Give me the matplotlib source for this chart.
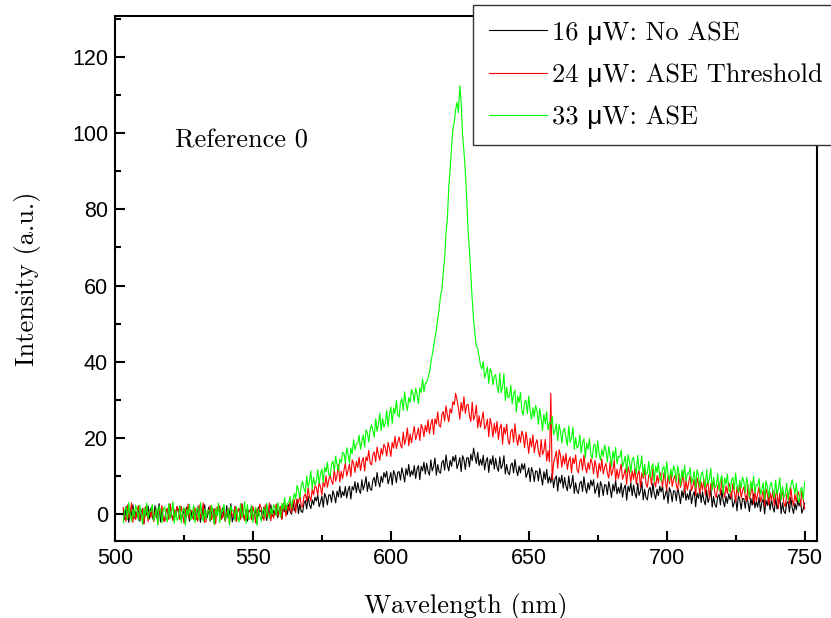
"""Emission spectra below / at / above the ASE threshold."""

import matplotlib

matplotlib.use("Agg")
import matplotlib.pyplot as plt  # noqa: E402
import numpy as np  # noqa: E402

# wavelength grid (nm), 0.5 nm step, 503..750
wavelength = np.arange(503, 750.25, 0.5)

# 16 uW: no ASE (one row = 5 nm)
intensity_16uw = [
    1.0, -1.4, 1.9, 0.2, -2.2, 1.3, -0.5, 2.4, -1.1, 0.6,
    -0.8, 1.8, -1.9, 0.5, 1.4, -2.6, 1.1, -0.3, 2.1, -1.3,
    1.6, -0.6, -1.8, 2.2, -1.0, 0.3, 2.7, -2.1, 0.8, -1.4,
    -1.9, 0.8, 1.4, -1.3, 2.6, -0.2, -1.6, 1.1, -0.6, 1.9,
    0.5, 2.1, -1.4, -0.3, 1.3, -2.4, 1.8, 0.6, -1.9, 1.0,
    -1.1, 0.6, 1.0, -1.4, 1.9, 0.2, -2.2, 1.3, -0.5, 2.4,
    -1.3, -0.8, 1.8, -1.9, 0.5, 1.4, -2.6, 1.1, -0.3, 2.1,
    0.8, -1.4, 1.6, -0.6, -1.8, 2.2, -1.0, 0.3, 2.7, -2.1,
    -0.6, 1.9, -1.9, 0.8, 1.4, -1.3, 2.6, -0.2, -1.6, 1.1,
    -1.9, 1.0, 0.5, 2.1, -1.4, -0.3, 1.3, -2.4, 1.8, 0.6,
    0.9, -1.1, 1.8, 0.3, -1.7, 1.4, -0.1, 2.4, -0.6, 0.9,
    -0.2, 2.0, -1.0, 1.1, 1.9, -1.3, 1.8, 0.6, 2.3, -0.1,
    2.5, 0.7, -0.1, 3.3, 0.8, 1.9, 3.8, 0.1, 2.6, 0.7,
    0.4, 2.8, 3.5, 1.3, 4.6, 2.5, 1.4, 3.7, 2.4, 4.4,
    3.4, 5.0, 1.9, 3.1, 4.7, 1.8, 5.4, 4.4, 2.4, 5.0,
    5.0, 3.1, 6.1, 4.8, 2.9, 6.0, 4.5, 7.3, 4.3, 5.9,
    4.8, 7.2, 4.2, 6.3, 7.3, 3.9, 7.2, 6.3, 8.5, 5.6,
    8.2, 6.3, 5.4, 9.0, 6.3, 7.7, 9.8, 5.9, 8.4, 6.6,
    6.2, 8.9, 9.6, 7.3, 10.9, 8.5, 7.1, 9.9, 8.3, 10.9,
    9.6, 11.2, 7.9, 9.3, 10.9, 7.6, 11.4, 10.4, 8.2, 11.0,
    11.1, 8.9, 12.1, 10.5, 8.4, 11.9, 10.2, 13.0, 9.8, 11.4,
    10.2, 12.7, 9.3, 11.8, 12.7, 9.0, 12.5, 11.3, 13.6, 10.5,
    13.3, 11.2, 10.2, 14.2, 11.3, 12.4, 14.7, 10.2, 13.0, 11.1,
    10.7, 13.5, 14.1, 11.5, 15.5, 12.8, 11.3, 14.1, 12.5, 15.1,
    13.8, 15.4, 11.9, 13.2, 14.8, 11.1, 15.3, 14.3, 11.7, 14.7,
    14.8, 12.4, 15.7, 14.0, 17.3, 15.1, 13.3, 16.2, 12.7, 14.4,
    12.8, 15.4, 11.6, 13.9, 14.8, 10.9, 14.4, 13.0, 15.3, 11.8,
    14.6, 12.3, 11.2, 15.0, 11.9, 12.9, 15.3, 10.5, 13.0, 10.9,
    10.3, 12.9, 13.4, 10.8, 14.3, 11.6, 10.1, 12.6, 10.8, 13.2,
    11.7, 13.2, 9.6, 10.6, 12.1, 8.5, 12.2, 11.0, 8.5, 11.3,
    11.2, 8.7, 12.0, 9.9, 7.6, 11.1, 9.1, 11.7, 8.1, 9.8,
    8.2, 10.7, 6.9, 9.2, 10.0, 6.0, 9.6, 8.1, 10.2, 6.8,
    9.6, 7.3, 6.1, 10.0, 6.7, 7.8, 10.2, 5.4, 8.2, 6.0,
    5.4, 8.1, 8.6, 5.9, 9.8, 7.0, 5.5, 8.2, 6.4, 8.9,
    7.4, 9.0, 5.4, 6.6, 8.1, 4.4, 8.5, 7.4, 4.8, 7.7,
    7.6, 5.1, 8.5, 6.7, 4.3, 7.8, 6.0, 8.8, 5.3, 7.0,
    5.5, 8.1, 4.4, 6.7, 7.6, 3.6, 7.3, 5.9, 8.2, 4.8,
    7.6, 5.4, 4.2, 8.1, 4.9, 6.0, 8.5, 3.7, 6.5, 4.3,
    3.7, 6.4, 7.0, 4.3, 8.1, 5.3, 3.9, 6.5, 4.8, 7.3,
    5.8, 7.4, 3.8, 5.0, 6.5, 2.8, 6.9, 5.8, 3.2, 6.1,
    6.0, 3.5, 6.9, 5.1, 2.7, 6.1, 4.3, 7.1, 3.6, 5.3,
    3.8, 6.4, 2.7, 4.9, 5.9, 1.9, 5.5, 4.1, 6.4, 3.0,
    5.8, 3.5, 2.4, 6.2, 3.0, 4.2, 6.6, 1.8, 4.6, 2.4,
    1.8, 4.5, 5.1, 2.4, 6.2, 3.4, 1.9, 4.6, 2.8, 5.3,
    3.8, 5.4, 1.8, 2.9, 4.4, 0.8, 4.9, 3.7, 1.2, 4.1,
    4.0, 1.5, 4.8, 3.0, 0.6, 4.1, 2.3, 5.2, 1.6, 3.3,
    1.8, 4.4, 0.7, 3.0, 4.0, 0.0, 3.6, 2.2, 4.5, 1.1,
    3.9, 1.7, 0.5, 4.4, 1.3, 2.5, 4.9, 0.1, 2.9, 0.7,
    0.1, 2.8, 3.3, 0.5, 4.4, 1.6, 0.1, 2.8, 1.1, 3.6,
    2.1, 3.7, 0.2, 1.3, 2.8,
]

# 24 uW: ASE threshold
intensity_24uw = [
    1.7, -0.7, -1.9, 2.4, -1.0, 0.3, 2.9, -2.2, 0.9, -1.5,
    0.5, 2.2, -1.5, -0.3, 1.4, -2.6, 1.9, 0.7, -2.0, 1.0,
    -0.9, 1.9, -2.0, 0.5, 1.5, -2.7, 1.2, -0.3, 2.2, -1.4,
    -2.0, 0.9, 1.5, -1.4, 2.7, -0.2, -1.7, 1.2, -0.7, 2.0,
    1.0, -1.5, 2.0, 0.2, -2.4, 1.4, -0.5, 2.6, -1.2, 0.7,
    0.9, -1.5, 1.7, -0.7, -1.9, 2.4, -1.0, 0.3, 2.9, -2.2,
    -2.0, 1.0, 0.5, 2.2, -1.5, -0.3, 1.4, -2.6, 1.9, 0.7,
    2.2, -1.4, -0.9, 1.9, -2.0, 0.5, 1.5, -2.7, 1.2, -0.3,
    -0.7, 2.0, -2.0, 0.9, 1.5, -1.4, 2.7, -0.2, -1.7, 1.2,
    -1.2, 0.7, 1.0, -1.5, 2.0, 0.2, -2.4, 1.4, -0.5, 2.6,
    1.6, -0.6, -1.7, 2.4, -0.8, 0.5, 2.9, -1.8, 1.1, -1.1,
    1.0, 2.6, -0.6, 0.6, 2.0, -1.4, 2.8, 1.8, -0.6, 2.2,
    0.9, 3.5, 0.3, 2.7, 3.8, 0.3, 3.9, 2.9, 5.2, 2.1,
    1.8, 4.6, 5.3, 3.3, 6.9, 4.6, 3.4, 6.5, 5.0, 7.4,
    7.0, 5.0, 8.4, 7.1, 5.0, 8.5, 7.1, 10.0, 7.0, 9.0,
    10.2, 8.6, 7.8, 11.8, 8.6, 10.1, 13.0, 8.4, 11.2, 9.3,
    11.5, 13.3, 10.0, 11.4, 13.1, 9.8, 14.2, 13.2, 10.9, 13.8,
    12.2, 14.9, 11.4, 13.7, 14.8, 11.3, 15.0, 14.0, 16.7, 13.3,
    12.9, 15.6, 16.3, 13.7, 17.6, 15.6, 14.1, 17.2, 15.6, 18.3,
    17.5, 15.2, 18.8, 17.3, 15.1, 18.8, 17.3, 20.4, 17.2, 18.9,
    20.2, 18.2, 17.3, 21.5, 18.3, 19.8, 22.6, 17.9, 21.0, 18.7,
    21.0, 23.0, 19.5, 20.9, 22.6, 19.3, 23.5, 22.6, 20.3, 23.3,
    21.6, 24.7, 21.1, 23.6, 24.9, 20.9, 25.0, 23.6, 26.8, 23.3,
    22.8, 26.1, 26.9, 24.4, 28.4, 26.0, 24.2, 27.6, 26.5, 29.5,
    28.7, 31.7, 29.9, 27.9, 24.9, 29.3, 27.0, 30.8, 26.4, 28.6,
    28.8, 25.8, 24.3, 29.4, 24.7, 25.8, 28.6, 22.6, 25.8, 22.8,
    24.9, 26.8, 22.3, 23.1, 24.9, 20.3, 25.1, 23.4, 20.2, 23.8,
    21.3, 24.3, 19.6, 22.5, 23.6, 18.3, 22.8, 21.0, 23.6, 19.3,
    18.3, 21.7, 22.3, 18.8, 23.7, 20.0, 18.0, 20.9, 18.8, 21.8,
    20.5, 17.4, 21.5, 19.0, 15.9, 19.9, 17.6, 20.8, 16.1, 18.5,
    19.5, 16.5, 15.0, 19.6, 15.6, 16.7, 19.6, 13.9, 16.6, 13.7,
    31.7, 8.9, 13.3, 14.8, 16.5, 12.0, 16.9, 15.4, 12.3, 15.3,
    13.1, 15.9, 11.7, 14.0, 15.0, 10.8, 14.7, 13.2, 15.5, 11.7,
    10.8, 13.8, 14.5, 11.5, 15.5, 12.4, 10.8, 13.5, 11.7, 14.5,
    13.3, 10.5, 14.1, 12.2, 9.5, 13.3, 11.3, 14.5, 10.5, 12.3,
    13.3, 10.7, 9.4, 13.7, 10.1, 11.5, 14.1, 8.7, 11.8, 9.3,
    11.3, 13.1, 9.1, 10.3, 11.9, 7.8, 12.4, 11.0, 8.3, 11.3,
    9.1, 12.0, 7.8, 10.4, 11.5, 7.0, 10.8, 9.3, 11.8, 7.9,
    7.0, 10.1, 10.8, 7.6, 11.9, 8.8, 7.1, 10.1, 8.1, 11.0,
    9.8, 7.1, 10.8, 8.8, 6.2, 10.1, 8.0, 11.1, 7.2, 9.1,
    10.1, 7.6, 6.3, 10.6, 7.0, 8.4, 11.1, 5.7, 8.8, 6.3,
    8.3, 10.1, 6.1, 7.3, 9.1, 4.9, 9.5, 8.1, 5.3, 8.4,
    6.3, 9.2, 5.0, 7.5, 8.5, 4.0, 8.0, 6.5, 8.9, 5.2,
    4.3, 7.4, 8.1, 5.0, 9.1, 6.1, 4.4, 7.4, 5.4, 8.2,
    7.0, 4.2, 8.0, 5.9, 3.2, 7.1, 5.0, 8.1, 4.2, 6.1,
    7.1, 4.5, 3.3, 7.7, 4.0, 5.3, 8.0, 2.6, 5.8, 3.3,
    5.3, 7.1, 3.2, 4.4, 6.2, 2.0, 6.6, 5.3, 2.4, 5.6,
    3.5, 6.4, 2.2, 4.9, 6.0, 1.4, 5.5, 3.9, 6.5, 2.8,
    1.9, 5.0, 5.7, 2.6, 6.9, 3.8, 2.2, 5.2, 3.2, 6.0,
    4.9, 2.2, 5.9, 3.9, 1.3,
]

# 33 uW: ASE
intensity_33uw = [
    -2.3, 1.0, 1.7, -1.5, 3.0, -0.2, -1.9, 1.3, -0.8, 2.3,
    1.1, -1.7, 2.3, 0.2, -2.7, 1.5, -0.6, 2.9, -1.3, 0.8,
    0.6, 2.5, -1.7, -0.4, 1.5, -2.9, 2.1, 0.8, -2.3, 1.1,
    1.9, -0.8, -2.1, 2.7, -1.1, 0.4, 3.2, -2.5, 1.0, -1.7,
    -1.0, 2.1, -2.3, 0.6, 1.7, -3.0, 1.3, -0.4, 2.5, -1.5,
    -0.8, 2.3, -2.3, 1.0, 1.7, -1.5, 3.0, -0.2, -1.9, 1.3,
    -1.3, 0.8, 1.1, -1.7, 2.3, 0.2, -2.7, 1.5, -0.6, 2.9,
    -2.3, 1.1, 0.6, 2.5, -1.7, -0.4, 1.5, -2.9, 2.1, 0.8,
    1.0, -1.7, 1.9, -0.8, -2.1, 2.7, -1.1, 0.4, 3.2, -2.5,
    2.5, -1.5, -1.0, 2.1, -2.3, 0.6, 1.7, -3.0, 1.3, -0.4,
    -1.9, 0.8, 1.5, -1.0, 2.8, 0.1, -1.2, 1.5, -0.2, 2.4,
    1.8, -0.5, 3.0, 1.3, -0.9, 2.8, 1.2, 4.3, 0.9, 2.8,
    3.0, 4.6, 1.6, 3.6, 5.4, 3.9, 7.5, 6.3, 4.2, 7.4,
    8.6, 6.6, 5.6, 10.0, 7.0, 8.6, 11.3, 6.5, 9.6, 7.6,
    8.7, 11.6, 8.0, 10.5, 11.8, 8.2, 12.3, 11.1, 13.6, 10.2,
    10.0, 13.1, 13.9, 11.3, 15.2, 13.0, 11.4, 14.4, 13.4, 16.2,
    15.9, 13.4, 17.4, 15.8, 13.4, 17.3, 15.8, 19.5, 16.8, 18.4,
    18.5, 20.7, 17.0, 19.0, 20.8, 17.6, 22.1, 21.2, 18.9, 22.1,
    23.4, 21.9, 20.2, 25.0, 21.7, 23.5, 26.5, 21.9, 25.1, 22.8,
    23.9, 27.2, 23.0, 26.2, 28.1, 23.7, 27.8, 26.3, 29.8, 26.0,
    25.4, 29.3, 30.3, 27.2, 32.1, 29.0, 27.2, 30.6, 29.3, 32.7,
    31.7, 29.5, 33.0, 31.5, 29.0, 33.1, 31.9, 35.5, 32.1, 34.3,
    34.5, 35.8, 37.2, 39.6, 41.8, 43.9, 46.3, 48.4, 51.2, 53.7,
    57.2, 59.0, 63.4, 67.1, 73.8, 77.5, 86.0, 90.6, 96.2, 101.0,
    103.0, 106.3, 108.1, 105.4, 112.5, 108.2, 99.5, 95.3, 90.0, 82.9,
    74.5, 69.3, 62.8, 56.4, 51.0, 47.2, 44.0, 43.6, 41.2, 39.1,
    38.1, 40.1, 35.7, 37.0, 38.6, 34.3, 38.2, 37.2, 33.9, 36.2,
    36.6, 33.6, 31.8, 37.0, 31.9, 33.5, 36.8, 29.8, 33.3, 30.5,
    30.8, 33.8, 28.9, 31.5, 32.5, 26.8, 31.0, 29.3, 31.9, 27.3,
    26.0, 29.3, 29.9, 26.3, 31.0, 27.1, 24.9, 27.9, 25.5, 28.5,
    27.0, 23.6, 27.7, 25.1, 21.9, 26.2, 23.7, 26.9, 22.1, 24.1,
    23.6, 25.7, 20.8, 22.0, 23.7, 19.2, 23.5, 21.7, 18.6, 22.0,
    22.5, 19.9, 18.0, 23.1, 18.8, 20.0, 22.8, 16.9, 20.1, 17.3,
    17.8, 20.8, 16.0, 18.8, 19.7, 14.8, 18.6, 17.0, 19.8, 15.6,
    14.6, 17.9, 18.4, 14.8, 19.2, 15.9, 14.1, 16.9, 15.1, 18.1,
    16.7, 13.6, 17.7, 15.4, 12.5, 16.5, 14.3, 17.5, 13.2, 15.2,
    14.9, 16.8, 12.4, 13.6, 15.2, 10.9, 15.6, 13.9, 10.9, 14.3,
    14.9, 12.2, 10.7, 15.4, 11.4, 12.7, 15.3, 9.8, 13.1, 10.3,
    10.8, 13.8, 9.4, 12.2, 13.2, 8.5, 12.6, 10.9, 13.5, 9.5,
    8.6, 11.8, 12.5, 9.3, 13.7, 10.5, 8.6, 11.8, 9.7, 12.7,
    11.4, 8.6, 12.6, 10.4, 7.5, 11.6, 9.5, 12.8, 8.6, 10.7,
    10.4, 12.2, 8.0, 9.2, 11.2, 6.8, 11.6, 10.2, 7.1, 10.4,
    11.1, 8.4, 7.0, 11.6, 7.9, 9.2, 12.0, 6.3, 9.6, 6.9,
    7.5, 10.6, 6.2, 8.9, 10.1, 5.3, 9.5, 7.8, 10.5, 6.5,
    5.6, 8.9, 9.6, 6.3, 10.7, 7.4, 5.7, 8.8, 6.8, 9.7,
    8.4, 5.6, 9.6, 7.4, 4.5, 8.6, 6.5, 9.9, 5.6, 7.7,
    7.4, 9.3, 5.1, 6.3, 8.2, 3.8, 8.7, 7.3, 4.3, 7.6,
    8.3, 5.6, 4.2, 8.9, 5.1, 6.6, 9.5, 3.7, 7.2, 4.4,
    5.1, 8.1, 3.7, 6.3, 7.4, 9.0, 7.1, 5.3, 8.1, 4.1,
    3.0, 6.3, 7.0, 3.8, 8.3,
]

labels = ["16 μW: No ASE", "24 μW: ASE Threshold", "33 μW: ASE"]
colors = ["black", "#ff0000", "#00ff00"]

SERIF = ["cmr10", "Liberation Sans"]  # μ falls back to the sans family

fig = plt.figure(figsize=(8.31, 6.18), dpi=100)
ax = fig.add_axes([115 / 831, 1 - 541 / 618, (817 - 115) / 831, (541 - 16) / 618])

for y, c, lab in zip([intensity_16uw, intensity_24uw, intensity_33uw], colors, labels):
    ax.plot(wavelength, y, color=c, linewidth=0.8, label=lab)

ax.set_xlim(500, 754.5)
ax.set_ylim(-7.1, 130.8)
ax.set_xticks(np.arange(500, 751, 50))
ax.set_xticks(np.arange(525, 751, 50), minor=True)
ax.set_yticks(np.arange(0, 121, 20))
ax.set_yticks(np.arange(10, 131, 20), minor=True)
ax.tick_params(which="both", direction="in", top=False, right=False, width=1.5)
ax.tick_params(which="major", length=7, labelsize=15.5)
ax.tick_params(which="minor", length=4)
ax.tick_params(axis="x", which="major", pad=5)
ax.tick_params(axis="y", which="major", pad=5)
for lbl in ax.get_xticklabels() + ax.get_yticklabels():
    lbl.set_fontfamily("Liberation Sans")
for sp in ax.spines.values():
    sp.set_linewidth(1.5)

ax.set_xlabel("Wavelength (nm)", family=SERIF, fontsize=19, labelpad=17)
ax.set_ylabel("Intensity (a.u.)", family=SERIF, fontsize=19, labelpad=22)
ax.text(521.7, 98, "Reference 0", family=SERIF, fontsize=19, va="center", ha="left")

leg = fig.legend(
    loc="upper left",
    bbox_to_anchor=(473 / 831, 1 - 5 / 618),
    borderaxespad=0,
    prop={"family": SERIF, "size": 19},
    frameon=True,
    fancybox=False,
    edgecolor="#333333",
    framealpha=1,
    handlelength=2.2,
    handletextpad=0.2,
    borderpad=0.6,
    labelspacing=0.7,
)
leg.get_frame().set_linewidth(1.0)

fig.savefig("out.png", dpi=100)
